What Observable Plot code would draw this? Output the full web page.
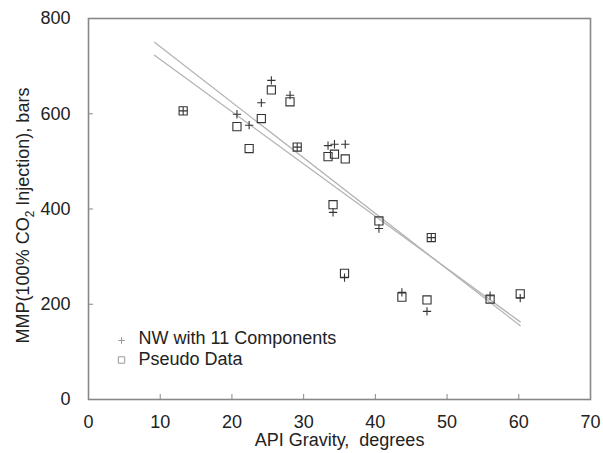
<!DOCTYPE html>
<html>
<head>
<meta charset="utf-8">
<script src="https://cdn.jsdelivr.net/npm/d3@7"></script>
<script src="https://cdn.jsdelivr.net/npm/@observablehq/plot@0.6"></script>
<style>
  html, body { margin: 0; padding: 0; background: #fff; }
  svg { display: block; }
</style>
</head>
<body>
<div id="chart"></div>
<script>
// API gravity (degrees) of each crude
const apiGravity = [13.2, 20.7, 22.4, 24.1, 25.5, 28.1, 29.1, 33.4, 34.3, 35.8, 34.1, 40.5, 35.7, 47.8, 43.7, 47.2, 56.0, 60.2];
// MMP, bars — NW with 11 components
const mmpNW = [606, 599, 576, 623, 670, 639, 530, 533, 536, 536, 393, 359, 256, 340, 225, 185, 218, 213];
// MMP, bars — pseudo data
const mmpPseudo = [606, 573, 527, 590, 650, 625, 530, 510, 515, 505, 409, 375, 265, 340, 215, 209, 211, 222];
// linear trend lines (end points)
const trendApi = [9.2, 60.2];
const trendNW = [750, 155];
const trendPseudo = [723, 163];
// ticks and labels
const xTicks = [0, 10, 20, 30, 40, 50, 60, 70];
const yTicks = [0, 200, 400, 600, 800];
const xTitle = "API Gravity,  degrees";
const yTitle = "MMP(100% CO2 Injection), bars";
const legendLabels = ["NW with 11 Components", "Pseudo Data"];

const nwData = apiGravity.map((x, i) => ({x, y: mmpNW[i]}));
const pseudoData = apiGravity.map((x, i) => ({x, y: mmpPseudo[i]}));
const trendA = trendApi.map((x, i) => ({x, y: trendNW[i]}));
const trendB = trendApi.map((x, i) => ({x, y: trendPseudo[i]}));

const FS = 18;
const plot = Plot.plot({
  width: 603,
  height: 453,
  marginLeft: 88,
  marginRight: 13,
  marginTop: 18,
  marginBottom: 54,
  style: {fontFamily: "'Liberation Sans', Arial, sans-serif", fontSize: FS + "px", color: "#222", background: "#fff"},
  x: {domain: [0, 70]},
  y: {domain: [0, 800]},
  marks: [
    Plot.axisX({ticks: xTicks, tickSize: -5, tickPadding: 21, stroke: "#888", fontSize: FS, label: null, tickFormat: d => String(d)}),
    Plot.axisY({ticks: yTicks, tickSize: -5, tickPadding: 23, stroke: "#888", fontSize: FS, label: null, tickFormat: d => String(d)}),
    Plot.line(trendA, {x: "x", y: "y", stroke: "#b4b4b4", strokeWidth: 1.3}),
    Plot.line(trendB, {x: "x", y: "y", stroke: "#b4b4b4", strokeWidth: 1.3}),
    Plot.dot(nwData, {x: "x", y: "y", symbol: "plus", r: 2.8, stroke: "#333", strokeWidth: 1.1}),
    Plot.dot(pseudoData, {x: "x", y: "y", symbol: "square", r: 4.6, fill: "none", stroke: "#333", strokeWidth: 1.1}),
    Plot.frame({stroke: "#888", strokeWidth: 1.6}),
    // legend
    Plot.dot([legendLabels[0]], {frameAnchor: "bottom-left", dx: 33, dy: -59, symbol: "plus", r: 2.2, stroke: "#999", strokeWidth: 1}),
    Plot.dot([legendLabels[1]], {frameAnchor: "bottom-left", dx: 33, dy: -39.5, symbol: "square", r: 3.6, fill: "none", stroke: "#999", strokeWidth: 1}),
    Plot.text([legendLabels[0]], {frameAnchor: "bottom-left", textAnchor: "start", lineAnchor: "middle", dx: 50, dy: -61, fontSize: FS, fill: "#222"}),
    Plot.text([legendLabels[1]], {frameAnchor: "bottom-left", textAnchor: "start", lineAnchor: "middle", dx: 50, dy: -40, fontSize: FS, fill: "#222"}),
    // axis titles
    Plot.text([xTitle], {frameAnchor: "bottom", textAnchor: "middle", lineAnchor: "middle", dy: 40.5, fontSize: FS, fill: "#222"}),
    Plot.text([yTitle], {frameAnchor: "left", textAnchor: "middle", lineAnchor: "middle", rotate: -90, dx: -65, dy: 6.5, fontSize: FS, fill: "#222"})
  ]
});

// subscript the 2 in CO2
for (const t of plot.querySelectorAll("text")) {
  if (t.textContent === yTitle) {
    const [pre, post] = yTitle.split("CO2");
    t.textContent = "";
    const ns = "http://www.w3.org/2000/svg";
    const a = document.createElementNS(ns, "tspan"); a.textContent = pre + "CO";
    const b = document.createElementNS(ns, "tspan"); b.textContent = "2"; b.setAttribute("dy", "5"); b.setAttribute("font-size", "12");
    const c = document.createElementNS(ns, "tspan"); c.textContent = post; c.setAttribute("dy", "-5");
    t.append(a, b, c);
  }
}
document.getElementById("chart").append(plot);
</script>
</body>
</html>
